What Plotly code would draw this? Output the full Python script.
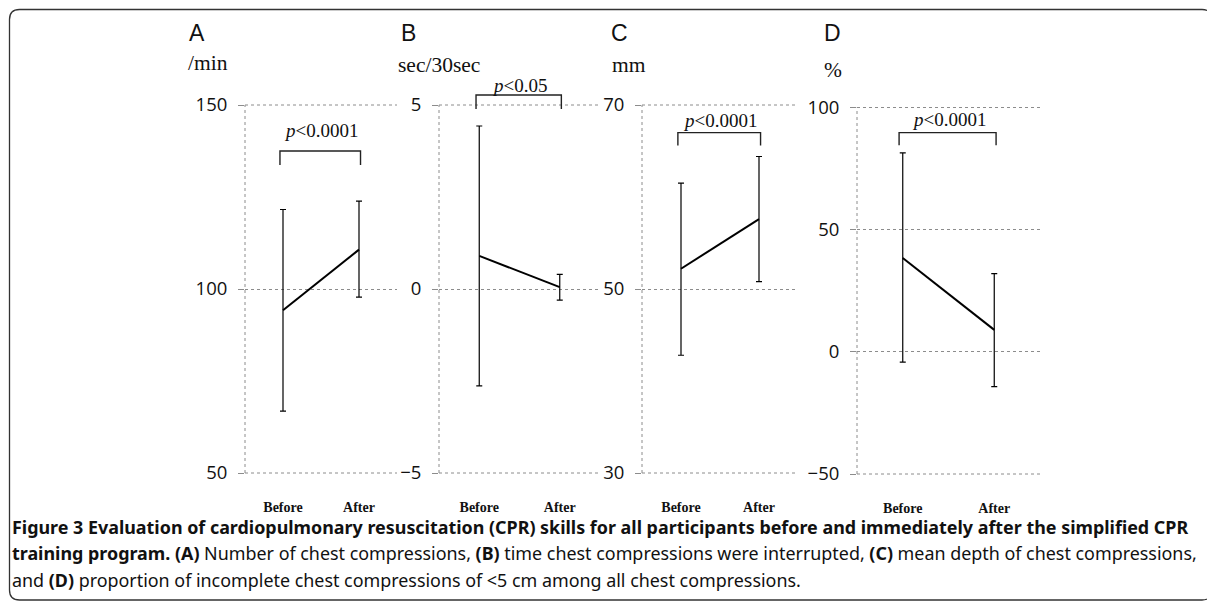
import plotly.graph_objects as go

# ---------------- data ----------------
categories = ["Before", "After"]
panel_letters = ["A", "B", "C", "D"]
units = ["/min", "sec/30sec", "mm", "%"]
p_labels = ["<i>p</i>&lt;0.0001", "<i>p</i>&lt;0.05", "<i>p</i>&lt;0.0001", "<i>p</i>&lt;0.0001"]

a_mean = [94.2, 110.7]
a_upper = [121.6, 123.9]
a_lower = [66.8, 97.8]

b_mean = [0.90, 0.05]
b_upper = [4.43, 0.40]
b_lower = [-2.63, -0.30]

c_mean = [52.2, 57.6]
c_upper = [61.5, 64.4]
c_lower = [42.8, 50.8]

d_mean = [38.4, 9.0]
d_upper = [81.4, 32.0]
d_lower = [-4.2, -14.2]

y_ranges = [[50, 150], [-5, 5], [30, 70], [-50, 100]]
y_dticks = [50, 5, 20, 50]
bracket_top = [137.5, 5.27, 67.0, 89.7]
bracket_bottom = [133.7, 4.89, 65.6, 84.6]
p_text_y = [143.2, 5.54, 68.3, 94.9]

caption_lines = [
    "<b>Figure 3 Evaluation of cardiopulmonary resuscitation (CPR) skills for all participants before and immediately after the simplified CPR</b>",
    "<b>training program.</b> <b>(A)</b> Number of chest compressions, <b>(B)</b> time chest compressions were interrupted, <b>(C)</b> mean depth of chest compressions,",
    "and <b>(D)</b> proportion of incomplete chest compressions of &lt;5 cm among all chest compressions.",
]

# ---------------- layout geometry (window pixels) ----------------
W, H = 1215, 603
OFF = 8  # page body margin
x_px = [(245, 397), (439, 600), (642, 798), (857, 1040)]
y_px = [(105, 473), (105, 473), (105, 473), (107.5, 474)]
letter_px = [(187, 33), (399, 33), (609, 33), (822, 33)]
unit_px = [(186, 63), (396, 65), (610, 65), (822, 70)]


def px_x(v):
    return (v - OFF) / W


def px_y(v):
    return 1 - (v - OFF) / H


means = [a_mean, b_mean, c_mean, d_mean]
uppers = [a_upper, b_upper, c_upper, d_upper]
lowers = [a_lower, b_lower, c_lower, d_lower]

fig = go.Figure()
GRID = "#8c8c8c"
shapes = []
annotations = []

for i in range(4):
    n = "" if i == 0 else str(i + 1)
    xa, ya = "x" + n, "y" + n
    m, up, lo = means[i], uppers[i], lowers[i]
    fig.add_trace(go.Scatter(
        x=categories, y=m, mode="lines",
        line=dict(color="black", width=2),
        error_y=dict(type="data", symmetric=False,
                     array=[u - v for u, v in zip(up, m)],
                     arrayminus=[v - l for v, l in zip(m, lo)],
                     color="black", thickness=1.2, width=3),
        xaxis=xa, yaxis=ya, showlegend=False, hoverinfo="skip"))

    fig.update_layout(**{
        ("xaxis" + n): dict(
            domain=[px_x(x_px[i][0]), px_x(x_px[i][1])],
            type="category", range=[-0.5, 1.5], anchor=ya,
            showgrid=False, showline=False, zeroline=False,
            ticks="outside", ticklen=21, tickcolor="rgba(0,0,0,0)",
            automargin=False,
            tickfont=dict(family="Liberation Serif", size=14, color="#111", weight="bold"),
        ),
        ("yaxis" + n): dict(
            domain=[px_y(y_px[i][1]), px_y(y_px[i][0])],
            range=y_ranges[i], dtick=y_dticks[i], tick0=y_ranges[i][0], anchor=xa,
            showgrid=True, gridcolor=GRID, griddash="dot", gridwidth=1,
            zeroline=False, showline=False, automargin=False,
            ticks="outside", ticklen=6, tickcolor=GRID, tickwidth=1,
            ticklabelstandoff=7,
            tickfont=dict(family="Open Sans", size=18.5, color="#111"),
        ),
    })

    # dotted vertical axis line and the top / bottom gridlines at the range ends
    shapes.append(dict(type="line", xref=xa + " domain", yref=ya + " domain",
                       x0=0, x1=0, y0=0, y1=1,
                       line=dict(color=GRID, width=1, dash="dot")))
    for edge in (0, 1):
        shapes.append(dict(type="line", xref=xa + " domain", yref=ya + " domain",
                           x0=0, x1=1, y0=edge, y1=edge,
                           line=dict(color=GRID, width=1, dash="dot")))

    # significance bracket
    lo_r, hi_r = y_ranges[i]
    ft = (bracket_top[i] - lo_r) / (hi_r - lo_r)
    fb = (bracket_bottom[i] - lo_r) / (hi_r - lo_r)
    fp = (p_text_y[i] - lo_r) / (hi_r - lo_r)
    shapes.append(dict(type="path", xref=xa, yref=ya + " domain",
                       path=f"M -0.04,{fb} L -0.04,{ft} L 1.02,{ft} L 1.02,{fb}",
                       line=dict(color="#222", width=1.4)))
    annotations.append(dict(xref=xa, yref=ya + " domain", x=0.5, y=fp,
                            text=p_labels[i], showarrow=False,
                            font=dict(family="Liberation Serif", size=19, color="#111"),
                            xanchor="center", yanchor="middle"))

    # panel letter and unit
    annotations.append(dict(xref="paper", yref="paper",
                            x=px_x(letter_px[i][0]), y=px_y(letter_px[i][1]),
                            text=panel_letters[i], showarrow=False,
                            xanchor="left", yanchor="middle",
                            font=dict(family="Liberation Sans", size=23, color="#111")))
    annotations.append(dict(xref="paper", yref="paper",
                            x=px_x(unit_px[i][0]), y=px_y(unit_px[i][1]),
                            text=units[i], showarrow=False,
                            xanchor="left", yanchor="middle",
                            font=dict(family="Liberation Serif", size=21.5, color="#111")))

# caption
cap_y = [527, 553, 580]
for line, yy in zip(caption_lines, cap_y):
    annotations.append(dict(xref="paper", yref="paper", x=px_x(10), y=px_y(yy),
                            text=line, showarrow=False, xanchor="left", yanchor="middle",
                            align="left",
                            font=dict(family="Noto Sans", size=17.9, color="#111")))

# rounded frame
x0, x1, y0, y1, r = 9.5, 1212, 9.5, 600, 10
rx, ry = r / W, r / H
X0, X1, Y0, Y1 = px_x(x0), px_x(x1), px_y(y0), px_y(y1)
frame = (f"M {X0 + rx},{Y0} L {X1 - rx},{Y0} Q {X1},{Y0} {X1},{Y0 - ry} "
         f"L {X1},{Y1 + ry} Q {X1},{Y1} {X1 - rx},{Y1} "
         f"L {X0 + rx},{Y1} Q {X0},{Y1} {X0},{Y1 + ry} "
         f"L {X0},{Y0 - ry} Q {X0},{Y0} {X0 + rx},{Y0} Z")
shapes.append(dict(type="path", xref="paper", yref="paper", path=frame,
                   line=dict(color="#333", width=1.3)))

fig.update_layout(width=W, height=H,
                  margin=dict(l=0, r=0, t=0, b=0, pad=0, autoexpand=False),
                  paper_bgcolor="white", plot_bgcolor="white",
                  shapes=shapes, annotations=annotations)

fig.write_html("out.html")
